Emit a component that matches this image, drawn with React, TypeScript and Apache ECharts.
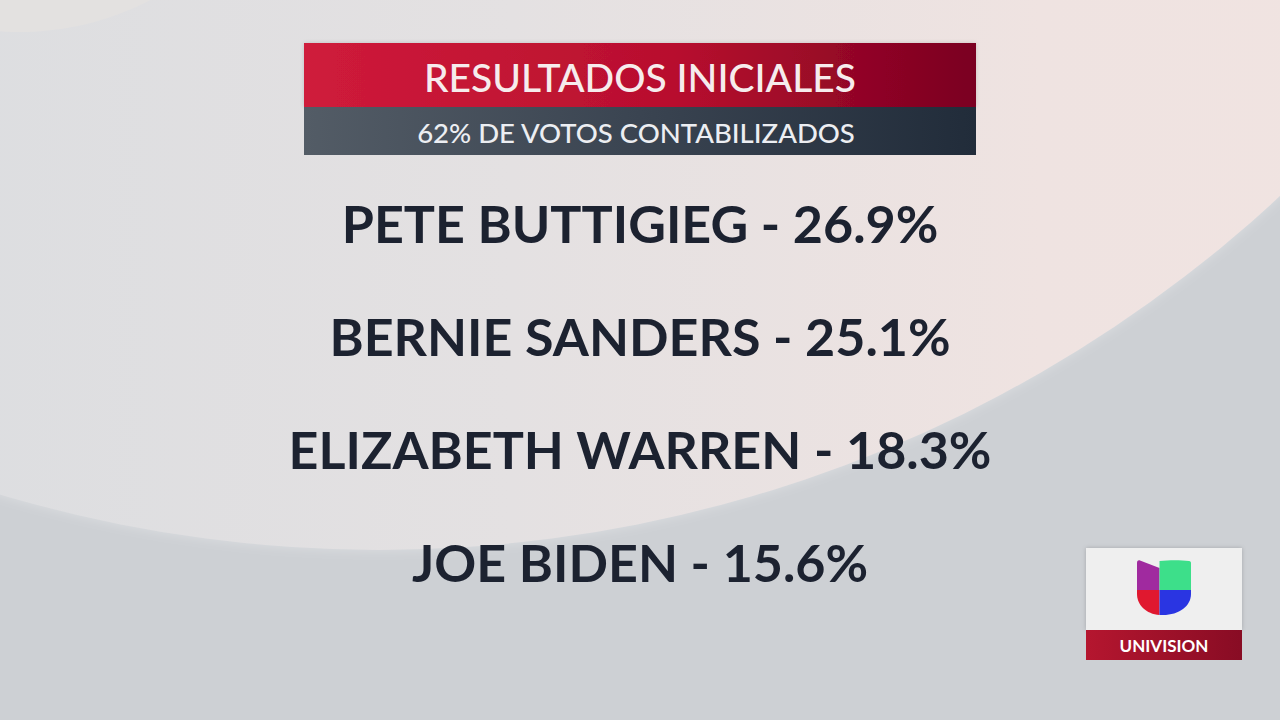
import React, { useEffect, useRef } from "react";
import * as echarts from "echarts";

const TITLE = "RESULTADOS INICIALES";
const SUBTITLE = "62% DE VOTOS CONTABILIZADOS";
const candidates = ["PETE BUTTIGIEG", "BERNIE SANDERS", "ELIZABETH WARREN", "JOE BIDEN"];
const percents = [26.9, 25.1, 18.3, 15.6];
const BRAND = "UNIVISION";

const U_PATHS: Record<string, string> = {
  uPurple: "M0,3 C0,1 1,0 3,0.5 L22.5,8 L22.5,30 L0,30 Z",
  uGreen: "M22.5,1 C32,0 44,0 52,1 C53.5,1.2 54,2 54,3 L54,30 L22.5,30 Z",
  uRed: "M0,30 L22.5,30 L22.5,55 C9,54 0,45 0,34 Z",
  uBlue: "M22.5,30 L54,30 L54,34 C54,46 42,55 26,55 L22.5,55 Z",
};
Object.keys(U_PATHS).forEach((k) => {
  echarts.graphic.registerShape(k, echarts.graphic.extendPath(U_PATHS[k], {}) as any);
});

const FONT = "Lato, 'Noto Sans', sans-serif";

export default function App() {
  const ref = useRef<HTMLDivElement>(null);
  useEffect(() => {
    if (!ref.current) return;
    const chart = echarts.init(ref.current, undefined, { renderer: "svg" });
    const data = candidates.map((c, i) => ({ value: [0.5, c], pct: percents[i] }));
    chart.setOption({
      animation: false,
      backgroundColor: "#cdd0d4",
      grid: { left: 0, right: 0, top: 166, height: 453 },
      xAxis: { type: "value", min: 0, max: 1, show: false },
      yAxis: { type: "category", data: candidates, inverse: true, show: false },
      series: [
        {
          type: "scatter",
          z: 10,
          symbolSize: 0,
          itemStyle: { opacity: 1 },
          data,
          label: {
            show: true,
            position: "inside",
            color: "#1c2230",
            opacity: 1,
            fontFamily: FONT,
            fontSize: 52,
            fontWeight: "bold",
            formatter: (p: any) => `${p.data.value[1]} - ${p.data.pct.toFixed(1)}%`,
          },
        },
      ],
      graphic: [
        {
          type: "circle",
          z: 0,
          silent: true,
          shape: { cx: 379, cy: -774, r: 1324 },
          style: {
            fill: {
              type: "linear", x: 0, y: 0, x2: 1, y2: 0,
              colorStops: [
                { offset: 0, color: "#d7d9dc" },
                { offset: 0.3, color: "#dbdde0" },
                { offset: 0.55, color: "#e4e1e2" },
                { offset: 0.75, color: "#efe3e1" },
                { offset: 1, color: "#f2e4e1" },
              ],
            },
            shadowBlur: 12,
            shadowColor: "rgba(255,255,255,0.3)",
          },
        },
        {
          type: "circle",
          z: 0,
          silent: true,
          shape: { cx: 20, cy: -250, r: 282 },
          style: { fill: "#e3e1e0" },
        },
        {
          type: "rect",
          z: 1,
          shape: { x: 304, y: 43, width: 672, height: 64 },
          style: {
            fill: {
              type: "linear", x: 0, y: 0, x2: 1, y2: 0,
              colorStops: [
                { offset: 0, color: "#cf1b3b" },
                { offset: 0.55, color: "#b80f2e" },
                { offset: 1, color: "#7a0021" },
              ],
            },
            shadowBlur: 4,
            shadowColor: "rgba(0,0,0,0.15)",
          },
        },
        {
          type: "rect",
          z: 1,
          shape: { x: 304, y: 107, width: 672, height: 48 },
          style: {
            fill: {
              type: "linear", x: 0, y: 0, x2: 1, y2: 0,
              colorStops: [
                { offset: 0, color: "#535c66" },
                { offset: 0.5, color: "#3a4451" },
                { offset: 1, color: "#212c3a" },
              ],
            },
          },
        },
        {
          type: "text",
          z: 2,
          x: 640,
          y: 77,
          style: {
            text: TITLE,
            fill: "#f6eced",
            font: `500 39px ${FONT}`,
            align: "center",
            verticalAlign: "middle",
          },
        },
        {
          type: "text",
          z: 2,
          x: 636,
          y: 132,
          style: {
            text: SUBTITLE,
            fill: "#eceef2",
            font: `500 27.5px ${FONT}`,
            align: "center",
            verticalAlign: "middle",
          },
        },
        {
          type: "rect",
          z: 1,
          shape: { x: 1086, y: 548, width: 156, height: 82 },
          style: { fill: "#efefef", shadowBlur: 4, shadowColor: "rgba(0,0,0,0.2)" },
        },
        {
          type: "rect",
          z: 1,
          shape: { x: 1086, y: 630, width: 156, height: 30 },
          style: {
            fill: {
              type: "linear", x: 0, y: 0, x2: 1, y2: 0,
              colorStops: [
                { offset: 0, color: "#b5162f" },
                { offset: 1, color: "#880c24" },
              ],
            },
          },
        },
        {
          type: "text",
          z: 2,
          x: 1164,
          y: 645,
          style: {
            text: BRAND,
            fill: "#ffffff",
            font: `bold 17px ${FONT}`,
            align: "center",
            verticalAlign: "middle",
          },
        },
        { type: "uPurple", z: 2, x: 1137, y: 560, style: { fill: "#a02a9f" } },
        { type: "uGreen", z: 2, x: 1137, y: 560, style: { fill: "#3ddf8a" } },
        { type: "uRed", z: 2, x: 1137, y: 560, style: { fill: "#e0182f" } },
        { type: "uBlue", z: 2, x: 1137, y: 560, style: { fill: "#2a35e2" } },
      ],
    });
    return () => chart.dispose();
  }, []);
  return (
    <div
      ref={ref}
      style={{ position: "fixed", left: 0, top: 0, width: 1280, height: 720 }}
    />
  );
}
